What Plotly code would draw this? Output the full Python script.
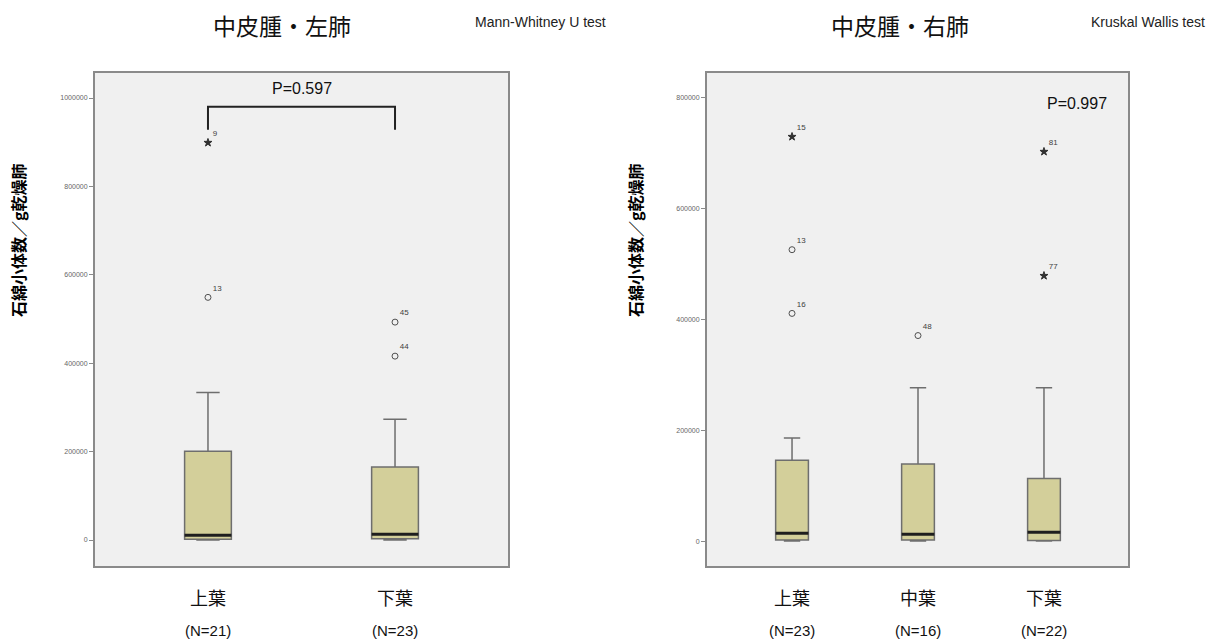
import plotly.graph_objects as go

# ---- data: left lung (two lobes) ----
left_cats = ["上葉", "下葉"]
left_n = [21, 23]
left_q1 = [2000, 3000]
left_median = [11000, 13000]
left_q3 = [201000, 165000]
left_lower = [0, 0]
left_upper = [334000, 273000]
left_out_cat = [0, 0, 1, 1]
left_out_val = [899000, 549000, 493000, 416000]
left_out_id = ["9", "13", "45", "44"]
left_out_kind = ["extreme", "outlier", "outlier", "outlier"]

# ---- data: right lung (three lobes) ----
right_cats = ["上葉", "中葉", "下葉"]
right_n = [23, 16, 22]
right_q1 = [2000, 2000, 1000]
right_median = [14000, 12500, 16000]
right_q3 = [146000, 139000, 113000]
right_lower = [0, 0, 0]
right_upper = [186000, 277000, 277000]
right_out_cat = [0, 0, 0, 1, 2, 2]
right_out_val = [730000, 526000, 411000, 371000, 703000, 479000]
right_out_id = ["15", "13", "16", "48", "81", "77"]
right_out_kind = ["extreme", "outlier", "outlier", "outlier", "extreme", "extreme"]

left_p = "P=0.597"
right_p = "P=0.997"
left_test = "Mann-Whitney U test"
right_test = "Kruskal Wallis test"
y_title = "石綿小体数／g乾燥肺"

W, H = 1217, 644
BOX_FILL = "#d3cf9a"
BOX_LINE = "#6e6e6e"
CJK = "Noto Sans CJK JP"
NARROW = "Liberation Sans Narrow, Arial Narrow, Liberation Sans, sans-serif"

fig = go.Figure()


def add_panel(xa, ya, cats, q1, med, q3, lo, up, out_cat, out_val, out_id, out_kind, width):
    xs = list(range(len(cats)))
    fig.add_trace(go.Box(
        x=xs, q1=q1, median=med, q3=q3, lowerfence=lo, upperfence=up,
        xaxis=xa, yaxis=ya, width=width, whiskerwidth=0.5,
        fillcolor=BOX_FILL, line=dict(color=BOX_LINE, width=1.5),
        boxpoints=False, hoverinfo="skip", showlegend=False,
    ))
    # heavier median bars
    for x, m in zip(xs, med):
        fig.add_trace(go.Scatter(
            x=[x - width / 2, x + width / 2], y=[m, m], mode="lines",
            line=dict(color="#1e1e1e", width=3), xaxis=xa, yaxis=ya,
            showlegend=False, hoverinfo="skip",
        ))
    for kind, sym, col in (("outlier", "circle-open", "#505050"), ("extreme", "star", "#303030")):
        idx = [i for i, k in enumerate(out_kind) if k == kind]
        if not idx:
            continue
        fig.add_trace(go.Scatter(
            x=[out_cat[i] for i in idx], y=[out_val[i] for i in idx],
            text=[out_id[i] for i in idx], mode="markers+text",
            textposition="top right",
            textfont=dict(size=8, color="#404040", family=NARROW),
            marker=dict(symbol=sym, size=6, color=col, line=dict(color=col, width=1)),
            xaxis=xa, yaxis=ya, showlegend=False, hoverinfo="skip",
        ))


add_panel("x", "y", left_cats, left_q1, left_median, left_q3, left_lower, left_upper,
          left_out_cat, left_out_val, left_out_id, left_out_kind, 0.25)
add_panel("x2", "y2", right_cats, right_q1, right_median, right_q3, right_lower, right_upper,
          right_out_cat, right_out_val, right_out_id, right_out_kind, 0.26)

y_dom = [1 - 566 / H, 1 - 73 / H]
axis_common = dict(showgrid=False, zeroline=False, showline=True, mirror=True,
                   linecolor="#8a8a8a", linewidth=2)
ytick_common = dict(ticks="outside", ticklen=4, tickcolor="#8a8a8a",
                    tickfont=dict(size=7, color="#666666", family="Liberation Sans"), tickformat="d")

fig.update_layout(
    width=W, height=H, margin=dict(l=0, r=0, t=0, b=0),
    paper_bgcolor="white", plot_bgcolor="#f0f0f0",
    xaxis=dict(domain=[95 / W, 508 / W], range=[-0.604, 1.604], showticklabels=False,
               ticks="", **axis_common),
    yaxis=dict(domain=y_dom, range=[-58800, 1056600], tickvals=[0, 200000, 400000, 600000, 800000, 1000000],
               **ytick_common, **axis_common),
    xaxis2=dict(domain=[707 / W, 1128 / W], range=[-0.675, 2.667], showticklabels=False,
                ticks="", **axis_common),
    yaxis2=dict(domain=y_dom, range=[-45000, 845000], tickvals=[0, 200000, 400000, 600000, 800000],
                anchor="x2", **ytick_common, **axis_common),
)
fig.update_layout(xaxis2_anchor="y2")


def note(x, y, text, size, family, color="#111111", xref="paper", angle=0):
    return dict(x=x, y=y, xref=xref, yref="paper", text=text, showarrow=False,
                xanchor="center", yanchor="middle", textangle=angle,
                font=dict(size=size, family=family, color=color))


ann = []
# category labels with counts
for xa, cats, ns in (("x", left_cats, left_n), ("x2", right_cats, right_n)):
    for i, (c, n) in enumerate(zip(cats, ns)):
        ann.append(note(i, 1 - 597 / H, c, 18, CJK, xref=xa))
        ann.append(note(i, 1 - 630 / H, f"(N={n})", 15, NARROW, xref=xa))

# panel titles, test names, p-values, y-axis titles
ann += [
    note(282 / W, 1 - 25 / H, "中皮腫・左肺", 23, CJK),
    note(900 / W, 1 - 25 / H, "中皮腫・右肺", 23, CJK),
    note(540 / W, 1 - 22 / H, left_test, 14, NARROW, "#222222"),
    note(1148 / W, 1 - 22 / H, right_test, 14, NARROW, "#222222"),
    note(0.5, 1 - 88 / H, left_p, 16, NARROW, xref="x"),
    note(1077 / W, 1 - 103 / H, right_p, 16, NARROW),
    note(18 / W, 1 - 240 / H, f"<b>{y_title}</b>", 16, CJK, "#000000", angle=-90),
    note(635 / W, 1 - 240 / H, f"<b>{y_title}</b>", 16, CJK, "#000000", angle=-90),
]
fig.update_layout(annotations=ann)

# significance bracket between the two left-lung groups
fig.add_shape(type="path", xref="x", yref="y",
              path="M 0 928000 L 0 980000 L 1 980000 L 1 928000",
              line=dict(color="#222222", width=2))

fig.write_html("out.html")
